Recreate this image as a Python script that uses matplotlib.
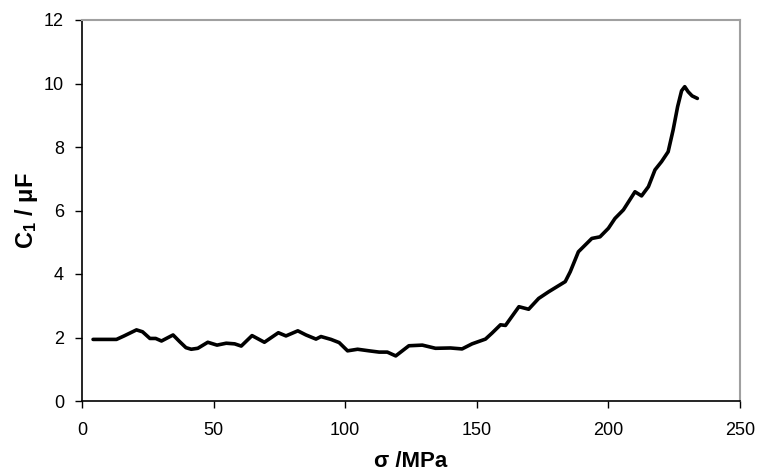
import matplotlib
matplotlib.use("Agg")
import matplotlib.pyplot as plt

plt.rcParams['font.family'] = ['Liberation Sans', 'DejaVu Sans']
plt.rcParams['mathtext.fontset'] = 'custom'
plt.rcParams['mathtext.rm'] = 'Liberation Sans'
plt.rcParams['mathtext.it'] = 'Liberation Sans'
plt.rcParams['mathtext.bf'] = 'Liberation Sans:bold'

sigma = [4.2, 8, 13.1, 16, 20.7, 23, 25.8, 28, 30.2, 34.6, 37.1, 39.5, 41.5, 44,
         47.8, 51.3, 54.8, 58, 60.5, 64.6, 69.3, 74.6, 77.5, 82, 85.1, 88.9, 90.8,
         94.6, 97.7, 100.9, 104.7, 109.1, 112.9, 116, 119.2, 124.2, 129.3, 134.3,
         140, 144.4, 148.2, 153.3, 155.8, 159, 160.9, 162.8, 166, 169.7, 173.5,
         177.3, 183.6, 185.5, 188.6, 193.7, 196.8, 200, 202.5, 205.7, 210.1, 212.6,
         215.2, 217.7, 220.2, 222.7, 224.6, 226.3, 227.8, 229, 230.3, 231.8, 233.8]
c1 = [1.94, 1.94, 1.94, 2.05, 2.24, 2.18, 1.97, 1.97, 1.89, 2.08, 1.87, 1.68, 1.63, 1.66,
      1.85, 1.76, 1.82, 1.80, 1.73, 2.06, 1.85, 2.15, 2.05, 2.21, 2.08, 1.95, 2.03,
      1.94, 1.84, 1.58, 1.63, 1.58, 1.54, 1.54, 1.42, 1.74, 1.76, 1.66,
      1.67, 1.64, 1.80, 1.95, 2.14, 2.40, 2.38, 2.60, 2.97, 2.89, 3.23,
      3.44, 3.76, 4.07, 4.70, 5.12, 5.17, 5.44, 5.75, 6.02, 6.59, 6.46,
      6.75, 7.28, 7.54, 7.85, 8.54, 9.27, 9.77, 9.90, 9.74, 9.61, 9.53]

xticks = [0, 50, 100, 150, 200, 250]
yticks = [0, 2, 4, 6, 8, 10, 12]

fig = plt.figure(figsize=(7.58, 4.74), dpi=100)
ax = fig.add_axes([82/758, 1-401/474, (740-82)/758, (401-20)/474])
ax.plot(sigma, c1, color='black', linewidth=2.6, solid_joinstyle='round',
        solid_capstyle='round')
ax.set_xlim(0, 250)
ax.set_ylim(0, 12)
ax.set_xticks(xticks)
ax.set_yticks(yticks)
ax.tick_params(axis='both', direction='out', length=5, width=1, labelsize=13,
               colors='black', pad=8)
ax.tick_params(axis='x', pad=10)
for s in ['left', 'bottom']:
    ax.spines[s].set_color('black')
    ax.spines[s].set_linewidth(1.2)
for s in ['top', 'right']:
    ax.spines[s].set_color('#a0a0a0')
    ax.spines[s].set_linewidth(1.5)
ax.set_xlabel('σ /MPa', fontsize=16, fontweight='bold', labelpad=9)
ax.set_ylabel(r'C$_\mathregular{1}$ / μF', fontsize=17, fontweight='bold', labelpad=3)
fig.savefig('out.png', dpi=100)
